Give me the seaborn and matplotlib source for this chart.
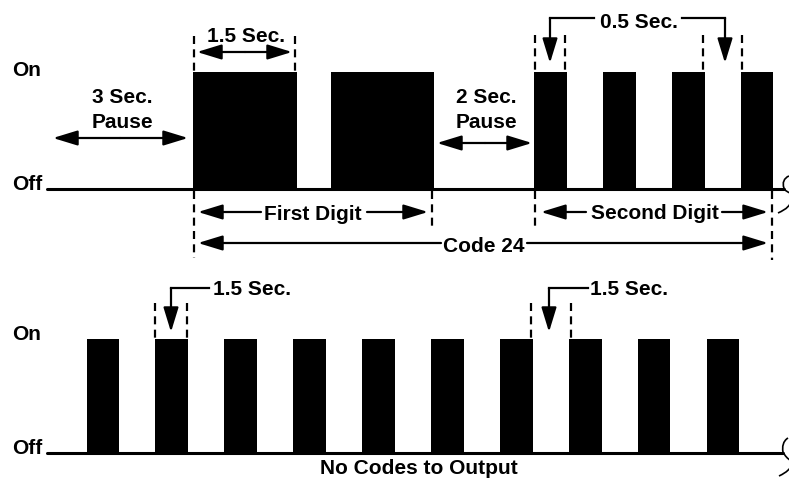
import matplotlib
matplotlib.use("Agg")
import matplotlib.pyplot as plt
import seaborn as sns
import numpy as np
from matplotlib.path import Path
from matplotlib.patches import PathPatch

# ---------------- data (seconds) ----------------
top_pulse_starts = [0.0, 2.0, 4.95, 5.95, 6.95, 7.95]
top_pulse_widths = [1.5, 1.5, 0.47, 0.47, 0.47, 0.47]
bottom_pulse_starts = [-1.55, -0.55, 0.45, 1.45, 2.45, 3.45, 4.45, 5.45, 6.45, 7.45]
bottom_pulse_widths = [0.475] * 10

level_labels = ["On", "Off"]
top_labels = ["1.5 Sec.", "3 Sec.", "Pause", "2 Sec.", "0.5 Sec.",
              "First Digit", "Second Digit", "Code 24"]
bottom_labels = ["1.5 Sec.", "No Codes to Output"]

# ---------------- layout ----------------
W, H = 789, 479
T0_PX, PX_PER_S = 193.3, 68.9


def X(px):
    return (px - T0_PX) / PX_PER_S


TOP_ON, TOP_OFF = 72, 188.5
BOT_ON, BOT_OFF = 339, 453

sns.set_theme(style="white")
plt.rcParams["font.family"] = ["Liberation Sans", "DejaVu Sans"]

fig = plt.figure(figsize=(W / 100, H / 100), dpi=100)
ax = fig.add_axes([0, 0, 1, 1])
ax.set_xlim(X(0), X(W))
ax.set_ylim(H, 0)
ax.axis("off")

FS = 15
LW_BASE = 2.2
LW_ARROW = 1.6
txt = dict(fontsize=FS, fontweight="bold", color="black")

# pulses
ax.bar(top_pulse_starts, TOP_OFF - TOP_ON, width=top_pulse_widths, bottom=TOP_ON,
       align="edge", color="black", linewidth=0)
ax.bar(bottom_pulse_starts, BOT_OFF - BOT_ON, width=bottom_pulse_widths, bottom=BOT_ON,
       align="edge", color="black", linewidth=0)

# baselines
sns.lineplot(x=[X(47), X(784)], y=[TOP_OFF, TOP_OFF], ax=ax, color="black",
             linewidth=LW_BASE, legend=False)
sns.lineplot(x=[X(47), X(783)], y=[BOT_OFF, BOT_OFF], ax=ax, color="black",
             linewidth=LW_BASE, legend=False)

# level labels
ax.text(X(12), 75.5, level_labels[0], ha="left", va="baseline", **txt)
ax.text(X(12), 189.5, level_labels[1], ha="left", va="baseline", **txt)
ax.text(X(12), 340, level_labels[0], ha="left", va="baseline", **txt)
ax.text(X(12), 454.5, level_labels[1], ha="left", va="baseline", **txt)


def dashed(px, y0, y1):
    ax.plot([X(px), X(px)], [y0, y1], color="black", lw=1.6,
            linestyle=(0, (3.6, 2.4)), solid_capstyle="butt")


def arrow(x0, y0, x1, y1, style="-|>"):
    ax.annotate("", xy=(X(x1), y1), xytext=(X(x0), y0), xycoords="data",
                arrowprops=dict(arrowstyle=f"{style},head_length=15,head_width=4.6",
                                mutation_scale=1, lw=LW_ARROW, color="black",
                                fc="black", shrinkA=0, shrinkB=0))


def hline(x0, x1, y):
    ax.plot([X(x0), X(x1)], [y, y], color="black", lw=LW_ARROW,
            solid_capstyle="projecting")


# ---------- top diagram ----------
# 1.5 Sec. dimension
dashed(194, 36, 72)
dashed(295, 36, 72)
arrow(245, 52, 197, 52)
arrow(245, 52, 292, 52)
ax.text(X(246.5), 41.7, top_labels[0], ha="center", va="baseline", **txt)

# 3 Sec. pause
ax.text(X(122.5), 103.3, top_labels[1], ha="center", va="baseline", **txt)
ax.text(X(122.5), 128.3, top_labels[2], ha="center", va="baseline", **txt)
arrow(120, 138, 53, 138)
arrow(120, 138, 188, 138)

# 2 Sec. pause
ax.text(X(486), 103.3, top_labels[3], ha="center", va="baseline", **txt)
ax.text(X(486), 128.3, top_labels[2], ha="center", va="baseline", **txt)
arrow(485, 143, 437, 143)
arrow(485, 143, 532, 143)

# 0.5 Sec. brackets
for px in (535, 565, 703, 742):
    dashed(px, 35, 72)
ax.text(X(639), 28.3, top_labels[4], ha="center", va="baseline", **txt)
hline(550, 594, 18)
hline(682, 725, 18)
arrow(550, 18, 550, 63)
arrow(725, 18, 725, 63)

# digit / code dimensions
dashed(194, 191, 258)
dashed(432, 191, 228)
dashed(535, 191, 231)
dashed(772, 191, 260)

ax.text(X(313), 220, top_labels[5], ha="center", va="baseline", **txt)
arrow(261, 212, 198, 212)
arrow(367, 212, 428, 212)

ax.text(X(655), 219, top_labels[6], ha="center", va="baseline", **txt)
arrow(586, 212, 541, 212)
arrow(722, 212, 768, 212)

ax.text(X(484), 251.5, top_labels[7], ha="center", va="baseline", **txt)
arrow(441, 243, 198, 243)
arrow(527, 243, 768, 243)

# ---------- bottom diagram ----------
dashed(155, 303, 339)
dashed(187, 303, 339)
dashed(531, 303, 339)
dashed(571, 303, 339)
ax.text(X(252.5), 295, bottom_labels[0], ha="center", va="baseline", **txt)
hline(171, 209, 288)
arrow(171, 288, 171, 332)
ax.text(X(629), 295, bottom_labels[0], ha="center", va="baseline", **txt)
hline(549, 588, 288)
arrow(549, 288, 549, 332)

ax.text(X(419), 474.5, bottom_labels[1], ha="center", va="baseline", **txt)


# ---------- cable break curls ----------
def curl(pts_list):
    for pts in pts_list:
        verts = [(X(p[0]), p[1]) for p in pts]
        codes = [Path.MOVETO] + [Path.CURVE4] * (len(verts) - 1)
        ax.add_patch(PathPatch(Path(verts, codes), fill=False, lw=1.2,
                               edgecolor="black", clip_on=False))


curl([
    [(789, 176), (784, 178), (782, 183), (784, 188), (785, 191), (788, 192), (790, 193)],
    [(790, 204), (787, 209), (782, 211), (778, 213)],
])
curl([
    [(788, 438), (783, 441), (782, 447), (783, 452), (785, 456), (788, 459), (790, 460)],
    [(790, 468), (787, 472), (783, 474), (779, 476)],
])

fig.savefig("out.png", dpi=100)
